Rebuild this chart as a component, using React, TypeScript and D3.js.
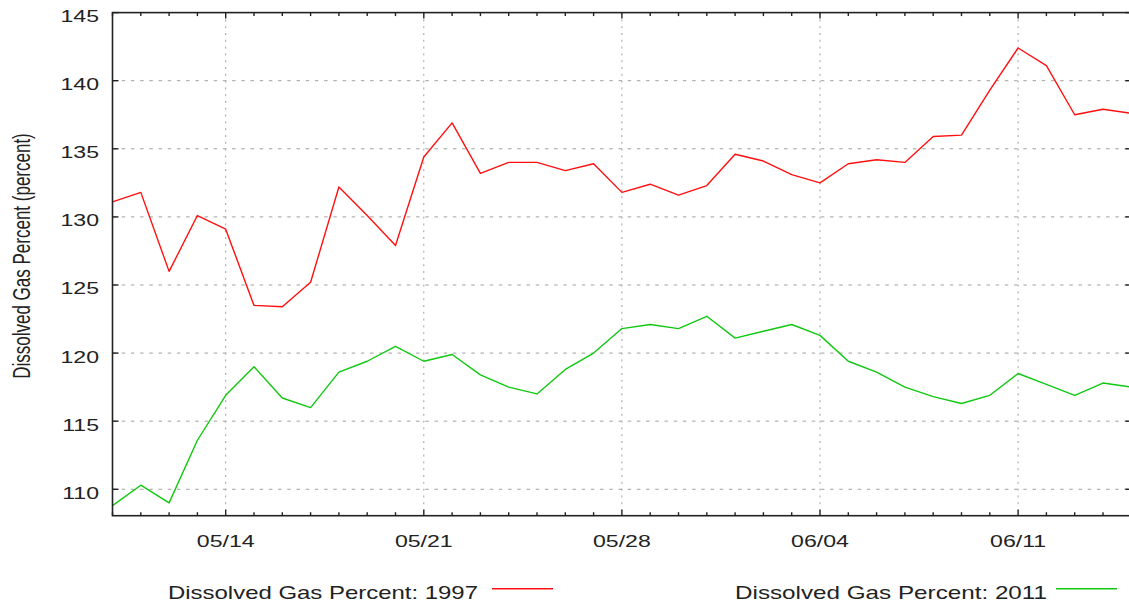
import React, { useEffect, useRef } from 'react';
import * as d3 from 'd3';

// one reading per day, 05/10 .. 06/15
const dates = [
  '05/10', '05/11', '05/12', '05/13', '05/14', '05/15', '05/16', '05/17', '05/18', '05/19',
  '05/20', '05/21', '05/22', '05/23', '05/24', '05/25', '05/26', '05/27', '05/28', '05/29',
  '05/30', '05/31', '06/01', '06/02', '06/03', '06/04', '06/05', '06/06', '06/07', '06/08',
  '06/09', '06/10', '06/11', '06/12', '06/13', '06/14', '06/15',
];

const gas1997 = [
  131.1, 131.8, 126.0, 130.1, 129.1, 123.5, 123.4, 125.2, 132.2, 130.1,
  127.9, 134.4, 136.9, 133.2, 134.0, 134.0, 133.4, 133.9, 131.8, 132.4,
  131.6, 132.3, 134.6, 134.1, 133.1, 132.5, 133.9, 134.2, 134.0, 135.9,
  136.0, 139.3, 142.4, 141.1, 137.5, 137.9, 137.6,
];

const gas2011 = [
  108.8, 110.3, 109.0, 113.6, 116.9, 119.0, 116.7, 116.0, 118.6, 119.4,
  120.5, 119.4, 119.9, 118.4, 117.5, 117.0, 118.8, 120.0, 121.8, 122.1,
  121.8, 122.7, 121.1, 121.6, 122.1, 121.3, 119.4, 118.6, 117.5, 116.8,
  116.3, 116.9, 118.5, 117.7, 116.9, 117.8, 117.5,
];

const yTicks = [110, 115, 120, 125, 130, 135, 140, 145];
const majorDates = ['05/14', '05/21', '05/28', '06/04', '06/11'];

const seriesNames = ['Dissolved Gas Percent: 1997', 'Dissolved Gas Percent: 2011'];
const yLabel = 'Dissolved Gas Percent (percent)';

const W = 1129;
const H = 608;

export default function App() {
  const ref = useRef<SVGSVGElement>(null);

  useEffect(() => {
    if (!ref.current) return;
    const svg = d3.select(ref.current);
    svg.selectAll('*').remove();

    const parse = d3.timeParse('%Y/%m/%d');
    const toDate = (s: string) => parse('2011/' + s) as Date;

    const left = 112.5;
    const right = 1131.3;
    const top = 12.6;
    const bottom = 515.7;

    const x = d3
      .scaleTime()
      .domain([toDate(dates[0]), toDate(dates[dates.length - 1])])
      .range([left, right]);
    const y = d3.scaleLinear().domain([108.06, 145]).range([bottom, top]);

    const font = '"Liberation Sans", Arial, Helvetica, sans-serif';
    const ink = '#222';

    // grid
    const grid = svg.append('g');
    yTicks
      .filter((v) => v < 145)
      .forEach((v) => {
        grid
          .append('line')
          .attr('x1', left)
          .attr('x2', right)
          .attr('y1', y(v))
          .attr('y2', y(v))
          .attr('stroke', '#a0a0a0')
          .attr('stroke-width', 1)
          .attr('stroke-dasharray', '3.5 5.7');
      });
    majorDates.forEach((d) => {
      grid
        .append('line')
        .attr('x1', x(toDate(d)))
        .attr('x2', x(toDate(d)))
        .attr('y1', top)
        .attr('y2', bottom)
        .attr('stroke', '#a0a0a0')
        .attr('stroke-width', 1)
        .attr('stroke-dasharray', '2 4.8');
    });

    // lines
    const line = d3
      .line<number>()
      .x((_, i) => x(toDate(dates[i])))
      .y((d) => y(d));

    const colors = ['#ff1010', '#10c810'];
    [gas1997, gas2011].forEach((s, i) => {
      svg
        .append('path')
        .datum(s)
        .attr('fill', 'none')
        .attr('stroke', colors[i])
        .attr('stroke-width', 1.4)
        .attr('stroke-linejoin', 'round')
        .attr('d', line);
    });

    // border
    svg
      .append('rect')
      .attr('x', left)
      .attr('y', top)
      .attr('width', right - left)
      .attr('height', bottom - top)
      .attr('fill', 'none')
      .attr('stroke', ink)
      .attr('stroke-width', 1.6);

    // x ticks (daily, longer on weeks)
    const ticks = svg.append('g').attr('stroke', ink).attr('stroke-width', 1.4);
    dates.forEach((d) => {
      const len = majorDates.includes(d) ? 6 : 3.5;
      const px = x(toDate(d));
      ticks.append('line').attr('x1', px).attr('x2', px).attr('y1', bottom).attr('y2', bottom - len);
      ticks.append('line').attr('x1', px).attr('x2', px).attr('y1', top).attr('y2', top + len);
    });
    yTicks.forEach((v) => {
      ticks.append('line').attr('x1', left).attr('x2', left + 6).attr('y1', y(v)).attr('y2', y(v));
      ticks.append('line').attr('x1', right).attr('x2', right - 6).attr('y1', y(v)).attr('y2', y(v));
    });

    // tick labels
    yTicks.forEach((v) => {
      svg
        .append('text')
        .attr('transform', `translate(99, ${y(v) + 9.5}) scale(1.4, 1)`)
        .attr('text-anchor', 'end')
        .attr('font-family', font)
        .attr('font-size', 16.5)
        .attr('fill', ink)
        .text(String(v));
    });
    majorDates.forEach((d) => {
      svg
        .append('text')
        .attr('transform', `translate(${x(toDate(d))}, 547) scale(1.4, 1)`)
        .attr('text-anchor', 'middle')
        .attr('font-family', font)
        .attr('font-size', 16.5)
        .attr('fill', ink)
        .text(d);
    });

    // y label
    svg
      .append('text')
      .attr('transform', 'translate(30, 256) scale(1.4, 1) rotate(-90)')
      .attr('text-anchor', 'middle')
      .attr('font-family', font)
      .attr('font-size', 17)
      .attr('fill', ink)
      .text(yLabel);

    // legend
    const legendX = [168, 735];
    const legendW = [310, 312];
    const legendLine = [
      [492, 553],
      [1056, 1117],
    ];
    seriesNames.forEach((name, i) => {
      svg
        .append('text')
        .attr('x', legendX[i])
        .attr('y', 599)
        .attr('font-family', font)
        .attr('font-size', 18.5)
        .attr('fill', ink)
        .attr('textLength', legendW[i])
        .attr('lengthAdjust', 'spacingAndGlyphs')
        .text(name);
      svg
        .append('line')
        .attr('x1', legendLine[i][0])
        .attr('x2', legendLine[i][1])
        .attr('y1', 588.7)
        .attr('y2', 588.7)
        .attr('stroke', colors[i])
        .attr('stroke-width', 1.5);
    });
  }, []);

  return (
    <svg
      ref={ref}
      width={W}
      height={H}
      style={{ position: 'absolute', left: 0, top: 0, background: '#fff' }}
    />
  );
}
